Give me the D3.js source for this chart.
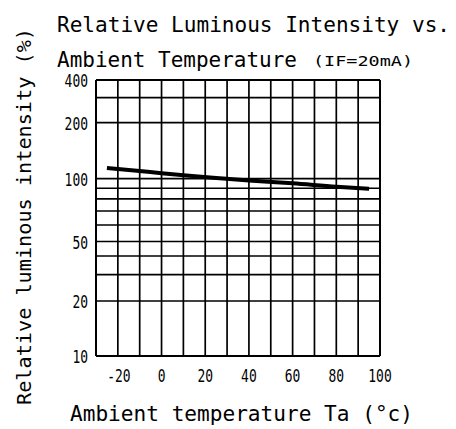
<!DOCTYPE html>
<html>
<head>
<meta charset="utf-8">
<script src="https://cdn.jsdelivr.net/npm/d3@7"></script>
<style>
  body { margin: 0; background: #fff; }
  text { font-family: "DejaVu Sans Mono", monospace; fill: #000; }
</style>
</head>
<body>
<script>
// grid + labels
var tempGrid = [-30, -20, -10, 0, 10, 20, 30, 40, 50, 60, 70, 80, 90, 100];
var tempLabels = [-20, 0, 20, 40, 60, 80, 100];
var intensityGrid = [10, 20, 30, 40, 50, 60, 70, 80, 90, 100, 200, 300, 400];
var intensityLabels = [10, 20, 50, 100, 200, 400];

// curve
var ambientTemp = [-25, -10, 0, 10, 25, 40, 60, 80, 95];
var relIntensity = [114, 110, 107, 104.5, 101, 98, 95, 91.5, 89.5];

var w = 456, h = 429;
var plotLeft = 96, plotRight = 380, plotTop = 80, plotBottom = 356;

var svg = d3.select("body").append("svg")
  .attr("width", w)
  .attr("height", h);

var xScale = d3.scaleLinear()
  .domain([-30, 100])
  .range([plotLeft, plotRight]);

// log scale, knots follow the printed grid of the scan
var yScale = d3.scaleLog()
  .domain([10, 20, 50, 100, 200, 400])
  .range([plotBottom, 301, 241.5, 178.7, 122.7, plotTop]);

// grid
svg.append("g").selectAll("line")
  .data(tempGrid)
  .enter()
  .append("line")
  .attr("x1", function(d) { return xScale(d); })
  .attr("x2", function(d) { return xScale(d); })
  .attr("y1", plotTop)
  .attr("y2", plotBottom)
  .attr("stroke", "#000")
  .attr("stroke-width", function(d, i) { return (i == 0 || i == tempGrid.length - 1) ? 2 : 1.7; });

svg.append("g").selectAll("line")
  .data(intensityGrid)
  .enter()
  .append("line")
  .attr("x1", plotLeft)
  .attr("x2", plotRight)
  .attr("y1", function(d) { return yScale(d); })
  .attr("y2", function(d) { return yScale(d); })
  .attr("stroke", "#000")
  .attr("stroke-width", function(d, i) { return (i == 0 || i == intensityGrid.length - 1) ? 2 : 1.7; });

// curve
var line = d3.line()
  .x(function(d, i) { return xScale(ambientTemp[i]); })
  .y(function(d) { return yScale(d); })
  .curve(d3.curveMonotoneX);

svg.append("path")
  .datum(relIntensity)
  .attr("d", line)
  .attr("fill", "none")
  .attr("stroke", "#000")
  .attr("stroke-width", 4);

// tick labels
svg.selectAll(".ylab")
  .data(intensityLabels)
  .enter()
  .append("text")
  .attr("class", "ylab")
  .text(function(d) { return d; })
  .attr("x", 88)
  .attr("y", function(d) { return yScale(d) + 7; })
  .attr("font-size", "17px")
  .attr("text-anchor", "end")
  .attr("textLength", function(d) { return String(d).length * 7.8; })
  .attr("lengthAdjust", "spacingAndGlyphs");

svg.selectAll(".xlab")
  .data(tempLabels)
  .enter()
  .append("text")
  .attr("class", "xlab")
  .text(function(d) { return d; })
  .attr("x", function(d) { return xScale(d) + (d < 0 ? 1 : 0); })
  .attr("y", 382)
  .attr("font-size", "17px")
  .attr("text-anchor", "middle")
  .attr("textLength", function(d) { return String(d).length * 7.8; })
  .attr("lengthAdjust", "spacingAndGlyphs");

// titles
function label(txt, x, y, size, len) {
  return svg.append("text")
    .text(txt)
    .attr("x", x)
    .attr("y", y)
    .attr("font-size", size + "px")
    .attr("textLength", len)
    .attr("lengthAdjust", "spacingAndGlyphs");
}

label("Relative Luminous Intensity vs.", 57, 32, 21, 393);
label("Ambient Temperature", 57, 67, 21, 240);
label("(IF=20mA)", 313, 66, 14, 100);
label("Ambient temperature Ta (°c)", 70, 421, 21, 343);

svg.append("text")
  .text("Relative luminous intensity (%)")
  .attr("transform", "translate(31,405) rotate(-90)")
  .attr("font-size", "20px")
  .attr("textLength", 377)
  .attr("lengthAdjust", "spacingAndGlyphs");
</script>
</body>
</html>
